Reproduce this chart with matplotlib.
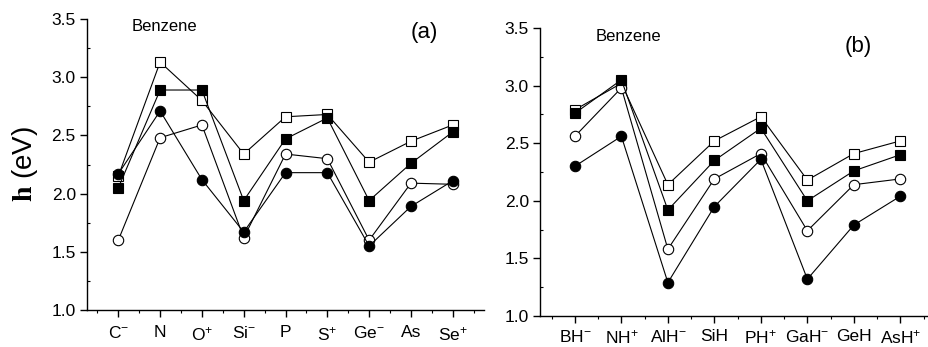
import numpy as np
import matplotlib
matplotlib.use('Agg')
import matplotlib.pyplot as plt
from matplotlib.ticker import MultipleLocator

plt.rcParams['font.family'] = 'Liberation Sans'
plt.rcParams['mathtext.fontset'] = 'custom'
plt.rcParams['mathtext.rm'] = 'Liberation Sans'
plt.rcParams['mathtext.it'] = 'Liberation Sans:italic'
plt.rcParams['mathtext.bf'] = 'Liberation Serif:bold'

## Panel (a) data
labels_a = [r'C$^{-}$', 'N', r'O$^{+}$', r'Si$^{-}$', 'P', r'S$^{+}$', r'Ge$^{-}$', 'As', r'Se$^{+}$']
a_open_sq = [2.15, 3.13, 2.80, 2.34, 2.66, 2.68, 2.27, 2.45, 2.59]
a_fill_sq = [2.05, 2.89, 2.89, 1.94, 2.47, 2.65, 1.94, 2.26, 2.53]
a_open_ci = [1.60, 2.48, 2.59, 1.62, 2.34, 2.30, 1.60, 2.09, 2.08]
a_fill_ci = [2.17, 2.71, 2.12, 1.67, 2.18, 2.18, 1.55, 1.89, 2.11]

## Panel (b) data
labels_b = [r'BH$^{-}$', r'NH$^{+}$', r'AlH$^{-}$', 'SiH', r'PH$^{+}$', r'GaH$^{-}$', 'GeH', r'AsH$^{+}$']
b_open_sq = [2.79, 3.02, 2.14, 2.52, 2.73, 2.18, 2.41, 2.52]
b_fill_sq = [2.76, 3.05, 1.92, 2.35, 2.63, 2.00, 2.26, 2.40]
b_open_ci = [2.56, 2.98, 1.58, 2.19, 2.41, 1.74, 2.14, 2.19]
b_fill_ci = [2.30, 2.56, 1.29, 1.95, 2.36, 1.32, 1.79, 2.04]

fig = plt.figure(figsize=(9.29, 3.47), dpi=100)
ax1 = fig.add_axes([0.0936, 0.1066, 0.4275, 0.8386])
ax2 = fig.add_axes([0.5813, 0.0893, 0.4254, 0.8300])


def draw(ax, labels, osq, fsq, oci, fci, xmax, xpad):
    x = np.arange(len(labels))
    kw = dict(color='black', lw=0.8, markeredgecolor='black', markeredgewidth=0.8)
    ax.plot(x, osq, marker='s', ms=7, markerfacecolor='white', **kw)
    ax.plot(x, oci, marker='o', ms=7.5, markerfacecolor='white', **kw)
    ax.plot(x, fsq, marker='s', ms=7, markerfacecolor='black', **kw)
    ax.plot(x, fci, marker='o', ms=7.5, markerfacecolor='black', **kw)
    ax.set_xlim(-0.75, xmax)
    ax.set_ylim(1.0, 3.5)
    ax.set_xticks(x)
    ax.set_xticklabels(labels, fontsize=12.5)
    ax.xaxis.set_minor_locator(MultipleLocator(0.5))
    ax.yaxis.set_major_locator(MultipleLocator(0.5))
    ax.yaxis.set_minor_locator(MultipleLocator(0.25))
    ax.set_yticklabels([f'{v:.1f}' for v in ax.get_yticks()], fontsize=12.5)
    ax.spines['top'].set_visible(False)
    ax.spines['right'].set_visible(False)
    for s in ['left', 'bottom']:
        ax.spines[s].set_linewidth(1.0)
    ax.tick_params(axis='both', which='major', direction='out', length=5, width=1.0, pad=3)
    ax.tick_params(axis='x', which='major', pad=xpad)
    ax.tick_params(axis='x', which='minor', direction='out', length=2, width=0.8)
    ax.tick_params(axis='y', which='minor', direction='in', length=2, width=0.8)


draw(ax1, labels_a, a_open_sq, a_fill_sq, a_open_ci, a_fill_ci, 8.75, 6)
draw(ax2, labels_b, b_open_sq, b_fill_sq, b_open_ci, b_fill_ci, 7.75, 4)

ax1.text(0.113, 0.975, 'Benzene', transform=ax1.transAxes, fontsize=12, va='center', ha='left')
ax1.text(0.815, 0.955, '(a)', transform=ax1.transAxes, fontsize=16, va='center', ha='left')
ax2.text(0.14, 0.97, 'Benzene', transform=ax2.transAxes, fontsize=12, va='center', ha='left')
ax2.text(0.77, 0.935, '(b)', transform=ax2.transAxes, fontsize=16, va='center', ha='left')

ax1.set_ylabel(r'$\mathbf{h}$ (eV)', fontsize=20, labelpad=8)

fig.savefig('out.png', dpi=100)
